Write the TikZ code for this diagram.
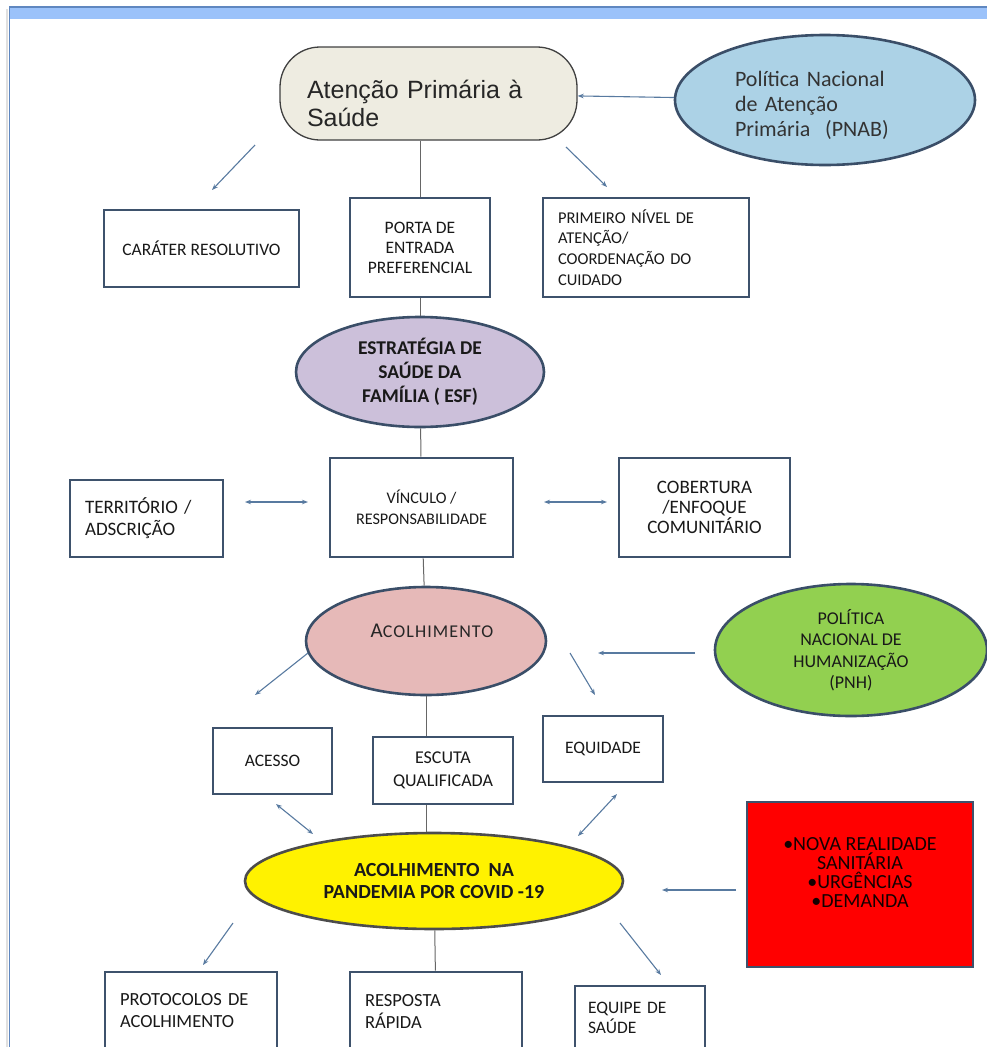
\documentclass[tikz,border=0pt]{standalone}
\usepackage{fontspec}
\setmainfont{Carlito}
\newfontfamily\arialfont{Liberation Sans}
\usetikzlibrary{shapes.geometric,arrows.meta}
\definecolor{boxline}{RGB}{62,82,108}
\definecolor{ringline}{RGB}{58,78,104}
\definecolor{arrowblue}{RGB}{88,122,160}
\definecolor{barblue}{RGB}{155,194,250}
\definecolor{barline}{RGB}{95,135,192}
\definecolor{apsfill}{RGB}{238,236,225}
\definecolor{pnabfill}{RGB}{172,210,230}
\definecolor{esffill}{RGB}{204,192,218}
\definecolor{acolfill}{RGB}{230,185,184}
\definecolor{pnhfill}{RGB}{146,208,80}
\definecolor{realink}{RGB}{20,0,0}
\newcommand\setfs[2]{\fontsize{#1}{#2}\selectfont}
\tikzset{
  mapbox/.style={draw=boxline, line width=2.8pt, fill=white, inner sep=0pt, align=center, text=black!90, font=\setfs{17.5}{21}},
  leftbox/.style={mapbox, align=left, inner xsep=15pt, text width=#1},
  bubble/.style={ellipse, draw=ringline, line width=2.6pt, inner sep=0pt, align=center, text=black!90},
  arr/.style={draw=arrowblue, line width=1.1pt, -{Stealth[length=6pt,width=4.5pt]}},
  twoarr/.style={draw=arrowblue, line width=1.1pt, {Stealth[length=6pt,width=4.5pt]}-{Stealth[length=6pt,width=4.5pt]}},
  link/.style={draw=black!60, line width=1pt}
}
\begin{document}
\begin{tikzpicture}[x=1pt,y=-1pt]
\useasboundingbox (0,0) rectangle (987,1047);
\clip (0,0) rectangle (987,1047);
\fill[barblue] (9,7) rectangle (990,19);
\draw[black!12, line width=2pt] (6.5,9) -- (6.5,1047);
\draw[barline, line width=1.3pt] (9.5,1047) -- (9.5,7) -- (990,7);

\node[draw=black!75, line width=1.3pt, fill=apsfill, rounded corners=40, minimum width=297, minimum height=93] (aps) at (428.5,93.5) {};
\node[font=\arialfont\setfs{25}{28}, text=black!85, align=left, text width=232, inner sep=0pt] (apslabel) at (423,103) {Atenção Primária à\\Saúde};
\node[bubble, fill=pnabfill, minimum width=300, minimum height=130] (pnab) at (825,100) {};
\node[font=\setfs{22}{25}, text=black!80, align=left, text width=182, inner sep=0pt] (pnablabel) at (826,105) {Política Nacional\\de Atenção\\Primária\ \ (PNAB)};

\node[mapbox, minimum width=195, minimum height=77] (car) at (201.5,248.5) {CARÁTER RESOLUTIVO};
\node[mapbox, minimum width=140, minimum height=99, font=\setfs{17.5}{20}] (porta) at (420,247.5) {PORTA DE\\ENTRADA\\PREFERENCIAL};
\node[leftbox=176, minimum height=99, font=\setfs{16.5}{20.7}] (prim) at (646,247.5) {PRIMEIRO NÍVEL DE\\ATENÇÃO/\\COORDENAÇÃO DO\\CUIDADO};
\node[bubble, fill=esffill, minimum width=248, minimum height=110, font=\setfs{19.5}{24}\bfseries] (esf) at (420,372) {ESTRATÉGIA DE\\SAÚDE DA\\FAMÍLIA ( ESF)};

\node[leftbox=123, minimum height=77, font=\setfs{19}{22}] (terr) at (146.5,518.5) {TERRITÓRIO /\\ADSCRIÇÃO};
\node[mapbox, minimum width=183, minimum height=99, font=\setfs{16.2}{21}] (vinc) at (421.5,507.5) {VÍNCULO /\\RESPONSABILIDADE};
\node[mapbox, minimum width=171, minimum height=99, font=\setfs{19}{20}] (cob) at (704.5,507.5) {COBERTURA\\/ENFOQUE\\COMUNITÁRIO};

\node[bubble, fill=acolfill, minimum width=240, minimum height=108] (acol) at (426,641) {};
\node[font=\setfs{18}{22}, text=black!85, inner sep=0pt] (acollabel) at (432,631) {{\setfs{21}{22}A}\addfontfeature{LetterSpace=6}COLHIMENTO};
\node[bubble, fill=pnhfill, minimum width=272, minimum height=132, font=\setfs{18}{21.5}] (pnh) at (851,650) {POLÍTICA\\NACIONAL DE\\HUMANIZAÇÃO\\(PNH)};

\node[mapbox, minimum width=119, minimum height=66] (acesso) at (272.5,761) {ACESSO};
\node[mapbox, minimum width=140, minimum height=67, font=\setfs{18}{23}] (escuta) at (443,770.5) {ESCUTA\\QUALIFICADA};
\node[mapbox, minimum width=120, minimum height=66] (equid) at (603,749) {EQUIDADE};

\node[bubble, fill=yellow, draw=black!70, minimum width=378, minimum height=96, font=\setfs{20}{22}\bfseries] (covid) at (434,881) {ACOLHIMENTO\ \ NA\\PANDEMIA POR COVID -19};
\node[draw=boxline, line width=2pt, fill=red, minimum width=226, minimum height=165] (real) at (860,884.5) {};
\node[font=\setfs{20}{19}, text=realink, align=center, inner sep=0pt] (reallabel) at (860,872) {•NOVA REALIDADE\\SANITÁRIA\\•URGÊNCIAS\\•DEMANDA};

\node[leftbox=142, minimum height=78, font=\setfs{18.5}{22}] (prot) at (191,1011) {PROTOCOLOS DE\\ACOLHIMENTO};
\node[leftbox=142, minimum height=78, font=\setfs{18.5}{22}] (resp) at (436,1011) {RESPOSTA\\RÁPIDA};
\node[leftbox=104, inner xsep=13pt, minimum height=64, font=\setfs{17.5}{20}] (equipe) at (640,1018) {EQUIPE DE\\SAÚDE};

\draw[arr] (pnab) -- (aps);
\foreach \n/\xa/\ya/\xb/\yb in {1/255/145/212/190,2/566/147/607/187,3/695/653/598/653,4/308/653/255/695,5/570/653/595/695,6/736/890/662/890,7/233/923/203/965,8/620/923/661/975}
{\coordinate (from\n) at (\xa,\ya); \coordinate (to\n) at (\xb,\yb); \draw[arr] (from\n) -- (to\n);}
\foreach \n/\xa/\ya/\xb/\yb in {1/245/502/308/502,2/544/502/607/502,3/276/804/313/834,4/617/794/578/836}
{\coordinate (left\n) at (\xa,\ya); \coordinate (right\n) at (\xb,\yb); \draw[twoarr] (left\n) -- (right\n);}

\draw[link] (porta.north) -- (porta.north |- aps.south);
\draw[link] (porta) -- (esf);
\draw[link] (esf) -- (vinc);
\draw[link] (vinc) -- (acol);
\draw[link] (acol.south) -- (acol.south |- escuta.north);
\draw[link] (acol.south |- escuta.south) -- (acol.south |- covid.north);
\draw[link] (covid) -- (resp);
\end{tikzpicture}
\end{document}
